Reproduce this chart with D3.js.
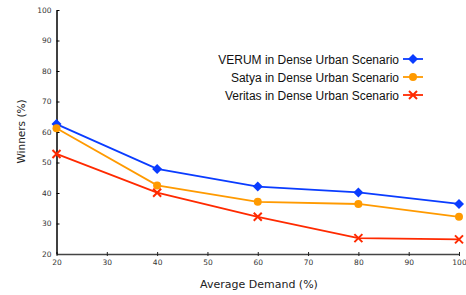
<!DOCTYPE html>
<html>
<head>
<meta charset="utf-8">
<script src="https://cdn.jsdelivr.net/npm/d3@7"></script>
<style>
  body { margin: 0; background: #fff; }
  svg { display: block; }
</style>
</head>
<body>
<svg width="466" height="295"></svg>
<script>
// Data
var demand = [20, 40, 60, 80, 100];
var verum = [62.6, 47.9, 42.1, 40.2, 36.4];
var satya = [61.2, 42.5, 37.1, 36.4, 32.2];
var veritas = [52.8, 40.1, 32.2, 25.2, 24.8];
var xTicks = [20, 30, 40, 50, 60, 70, 80, 90, 100];
var yTicks = [20, 30, 40, 50, 60, 70, 80, 90, 100];

var series = [
  { name: "VERUM in Dense Urban Scenario", values: verum, color: "#0a3cff", marker: "diamond" },
  { name: "Satya in Dense Urban Scenario", values: satya, color: "#ff9a00", marker: "circle" },
  { name: "Veritas in Dense Urban Scenario", values: veritas, color: "#ff2a00", marker: "cross" }
];

var svg = d3.select("svg");

var x = d3.scaleLinear().domain([20, 100]).range([56.5, 459]);
var y = d3.scaleLinear().domain([20, 100]).range([254, 10]);

// Axes
var xAxis = svg.append("g")
    .attr("transform", "translate(0," + y(20) + ")")
    .call(d3.axisBottom(x).tickValues(xTicks).tickSizeInner(-3).tickSizeOuter(0).tickPadding(6));
xAxis.select(".domain").attr("stroke", "#444").attr("stroke-width", 1.5);
xAxis.selectAll(".tick line").attr("stroke", "#222").attr("y1", 2).attr("y2", -2);
xAxis.selectAll("text")
    .attr("font-family", "DejaVu Sans").attr("font-size", 7.5).attr("fill", "#333");

var yAxis = svg.append("g")
    .attr("transform", "translate(" + x(20) + ",0)")
    .call(d3.axisLeft(y).tickValues(yTicks).tickSizeInner(-3).tickSizeOuter(0).tickPadding(5));
yAxis.select(".domain").attr("stroke", "#000").attr("stroke-width", 1.5);
yAxis.selectAll(".tick line").attr("stroke", "#000");
yAxis.selectAll(".tick").filter(function(d) { return d === 20; }).select("line").remove();
yAxis.selectAll("text")
    .attr("font-family", "DejaVu Sans").attr("font-size", 7.5).attr("fill", "#333");

// Axis titles
svg.append("text")
    .attr("x", 259).attr("y", 288)
    .attr("text-anchor", "middle")
    .attr("font-family", "DejaVu Sans").attr("font-size", 11).attr("fill", "#222")
    .text("Average Demand (%)");

svg.append("text")
    .attr("transform", "translate(25," + 131.5 + ") rotate(-90)")
    .attr("text-anchor", "middle")
    .attr("font-family", "DejaVu Sans").attr("font-size", 10.5).attr("fill", "#222")
    .text("Winners (%)");

// Marker drawing
function drawMarker(g, type, color) {
  if (type === "diamond") {
    g.append("path").attr("d", "M0,-5L5,0L0,5L-5,0Z").attr("fill", color);
  } else if (type === "circle") {
    g.append("circle").attr("r", 4).attr("fill", color);
  } else {
    g.append("path").attr("d", "M-4,-4L4,4M-4,4L4,-4")
        .attr("stroke", color).attr("stroke-width", 2).attr("fill", "none");
  }
}

var line = d3.line()
    .x(function(d, i) { return x(demand[i]); })
    .y(function(d) { return y(d); });

// Lines and markers
series.forEach(function(s) {
  svg.append("path")
      .datum(s.values)
      .attr("d", line)
      .attr("fill", "none")
      .attr("stroke", s.color)
      .attr("stroke-width", 1.8);

  s.values.forEach(function(v, i) {
    var g = svg.append("g").attr("transform", "translate(" + x(demand[i]) + "," + y(v) + ")");
    drawMarker(g, s.marker, s.color);
  });
});

// Legend
var legendY = [59, 77, 95];
series.forEach(function(s, i) {
  var g = svg.append("g").attr("transform", "translate(0," + legendY[i] + ")");
  g.append("text")
      .attr("x", 399).attr("y", 4.5)
      .attr("text-anchor", "end")
      .attr("font-family", "Liberation Sans").attr("font-size", 12).attr("fill", "#111")
      .text(s.name);
  g.append("line")
      .attr("x1", 403).attr("x2", 423)
      .attr("stroke", s.color).attr("stroke-width", 1.8);
  var m = g.append("g").attr("transform", "translate(413,0)");
  drawMarker(m, s.marker, s.color);
});
</script>
</body>
</html>
